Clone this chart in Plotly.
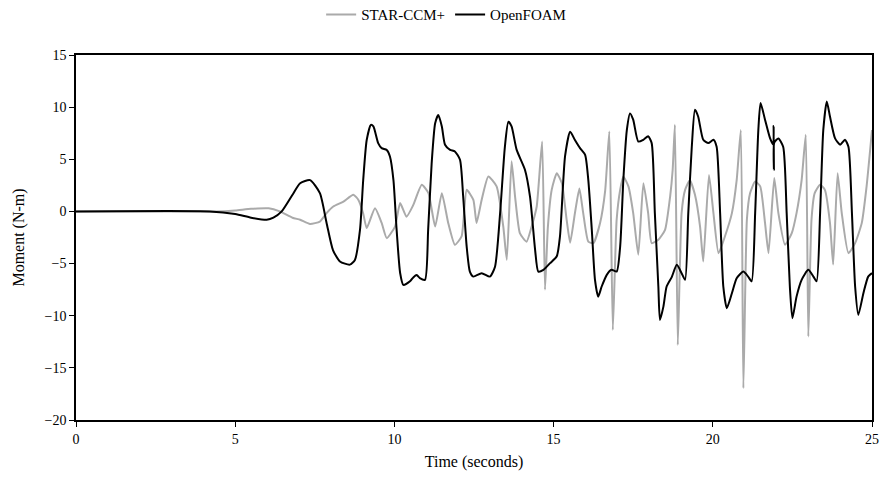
import plotly.graph_objects as go

# OpenFOAM moment history (time in s, moment in N-m)
t_foam = [0, 4.2, 5.0, 5.5, 5.99, 6.2, 6.46, 6.8, 7.04, 7.35, 7.66, 7.87, 8.07, 8.29, 8.6, 8.76,
          8.92, 9.02, 9.13, 9.26, 9.34, 9.49, 9.6, 9.76, 9.86, 9.97, 10.07, 10.18, 10.28, 10.49,
          10.6, 10.7, 10.8, 10.96, 11.06, 11.17, 11.28, 11.38, 11.49, 11.59, 11.75, 11.9, 12.06,
          12.16, 12.27, 12.37, 12.48, 12.74, 13.0, 13.16, 13.32, 13.47, 13.58, 13.68, 13.84,
          14.1, 14.26, 14.42, 14.52, 14.68, 14.89, 15.1, 15.2, 15.36, 15.52,
          15.67, 15.83, 15.99, 16.09, 16.2, 16.3, 16.4, 16.51, 16.67, 16.82, 16.98, 17.09, 17.19,
          17.3, 17.4, 17.5, 17.66, 17.82, 17.97, 18.08, 18.18, 18.29, 18.34, 18.45, 18.55, 18.71,
          18.87, 19.02, 19.13, 19.23, 19.34, 19.44, 19.54, 19.7, 19.86, 20.02, 20.12, 20.23,
          20.33, 20.44, 20.6, 20.75, 20.96, 21.11, 21.22, 21.33, 21.43, 21.5, 21.64, 21.8, 21.9,
          21.91, 21.92, 21.93, 22.06, 22.21, 22.32, 22.42, 22.5, 22.63, 22.79, 23.0, 23.16, 23.26,
          23.37, 23.47, 23.58, 23.68, 23.84, 24.0, 24.15, 24.26, 24.37, 24.47, 24.57, 24.73,
          24.88, 25.0]
m_foam = [0, 0, -0.25, -0.6, -0.8, -0.6, 0, 1.6, 2.7, 3.0, 1.75, -1.1, -3.7, -4.8, -5.1, -4.65,
          -1.75, 3.0, 6.85, 8.3, 8.15, 6.55, 6.07, 5.9, 5.27, 3.0, -1.77, -5.9, -7.05, -6.7,
          -6.3, -6.1, -6.4, -6.56, -1.77, 4.6, 8.45, 9.25, 8.15, 6.4, 5.9, 5.75, 4.95,
          1.43, -3.37, -5.77, -6.25, -5.92, -6.25, -5.3, -0.16, 6.2, 8.6, 8.15, 5.9,
          4.0, 1.4, -3.7, -5.77, -5.6, -4.96, -4.3, -2.4, 5.3, 7.65,
          6.85, 6.07, 5.43, 3.0, -1.77, -6.56, -8.17, -7.2, -6.08, -5.6, -5.77, -3.37, 3.0,
          7.8, 9.4, 8.8, 6.7, 6.87, 7.2, 6.55, -0.16, -7.2, -10.4, -9.1, -7.2, -6.3,
          -5.12, -5.92, -6.56, -0.16, 6.2, 9.75, 9.1, 6.87, 6.55, 6.87, 6.2, -0.16,
          -7.2, -9.28, -7.84, -6.4, -5.77, -6.25, -6.7, -0.16, 7.8, 10.4, 8.8, 7.0, 6.4,
          8.2, 4.0, 6.6, 7.0, 6.2, -0.16, -7.2, -10.24, -8.17, -6.56, -5.6, -6.25, -6.7,
          -0.16, 7.8, 10.55, 9.1, 7.0, 6.4, 6.87, 6.2, -0.16, -7.2, -9.92, -7.84,
          -6.25, -5.92]

# STAR-CCM+ moment history
t_star = [0, 4.4, 5.0, 5.5, 6.05, 6.4, 6.8, 7.04, 7.35, 7.66, 7.87, 8.08, 8.4, 8.71, 8.87, 9.02,
          9.13, 9.39, 9.6, 9.76, 10.02, 10.18, 10.38, 10.59, 10.86, 11.07, 11.28,
          11.49, 11.69, 11.9, 12.11, 12.27, 12.48, 12.58, 12.74, 12.95, 13.21, 13.42,
          13.53, 13.68, 13.79, 13.94, 14.15, 14.31, 14.47, 14.64, 14.73, 14.82, 14.94, 15.1,
          15.26, 15.41, 15.52, 15.67, 15.81, 15.93, 16.09, 16.25, 16.46, 16.62, 16.75, 16.86,
          16.98, 17.09, 17.19, 17.35, 17.5, 17.66, 17.82, 17.97, 18.08, 18.29, 18.5, 18.66,
          18.74, 18.81, 18.9, 19.02, 19.13, 19.28, 19.44, 19.6, 19.7, 19.88, 20.02, 20.18, 20.38,
          20.6, 20.75, 20.88, 20.96, 21.07, 21.17, 21.33, 21.49, 21.64, 21.75, 21.93, 22.06,
          22.27, 22.48, 22.63, 22.79, 22.92, 23.0, 23.1, 23.2, 23.37, 23.52, 23.68, 23.78,
          23.92, 24.05, 24.26, 24.47, 24.68, 24.83, 25.0]
m_star = [0, 0, 0.1, 0.25, 0.3, 0.0, -0.6, -0.8, -1.2, -0.97, -0.16, 0.47, 0.95, 1.6, 1.1, -0.2,
          -1.6, 0.3, -1.1, -2.56, -1.45, 0.8, -0.5, 0.6, 2.55, 1.75, -1.45,
          1.75, -1.1, -3.2, -2.4, 2.07, 1.1, -1.1, 1.1, 3.35, 2.4, -1.45,
          -4.64, 4.8, 1.43, -2.08, -2.9, -1.45, 0.47, 6.7, -7.5, -1.5, 2.07, 3.67,
          2.7, -0.8, -3.0, -0.16, 2.2, -0.16, -2.9, -3.04, -1.1, 2.0, 7.67, -11.36,
          -0.8, 2.07, 3.35, 2.4, -0.16, -4.16, 2.7, -0.16, -3.04, -2.72, -1.77, 1.43,
          4.0, 8.3, -12.8, -0.16, 2.07, 3.0, 1.6, -1.45, -4.8, 3.5, -0.16, -4.0, -2.4,
          -0.16, 3.0, 7.8, -16.96, -0.8, 1.75, 2.87, 2.4, -1.1, -4.0, 3.2, -0.16,
          -3.2, -2.08, -0.16, 3.0, 7.35, -12.0, -0.8, 1.75, 2.55, 2.07, -1.1, -5.1,
          3.67, -0.16, -4.0, -3.04, -1.1, 2.4, 7.8]

y_ticks = [15, 10, 5, 0, -5, -10, -15, -20]
x_ticks = [0, 5, 10, 15, 20, 25]

serif = "Liberation Serif, Times New Roman, serif"

fig = go.Figure()
fig.add_trace(go.Scatter(x=t_star, y=m_star, mode="lines", name="STAR-CCM+",
                         line=dict(color="#aaaaaa", width=2, shape="spline", smoothing=0.5)))
fig.add_trace(go.Scatter(x=t_foam, y=m_foam, mode="lines", name="OpenFOAM",
                         line=dict(color="#000000", width=2, shape="spline", smoothing=0.6)))

axis_common = dict(showline=True, linecolor="black", linewidth=1.5, mirror=True,
                   showgrid=False, zeroline=False, ticks="outside", ticklen=5,
                   tickcolor="black", automargin=False,
                   tickfont=dict(family=serif, size=14, color="black"))

fig.update_layout(
    width=881, height=481,
    margin=dict(l=76, r=9, t=55, b=61, autoexpand=False),
    paper_bgcolor="white", plot_bgcolor="white",
    font=dict(family=serif, size=14, color="black"),
    showlegend=True,
    legend=dict(orientation="h", x=0.465, xanchor="center", y=1.11, yanchor="middle",
                font=dict(family=serif, size=15, color="black"),
                itemwidth=30, tracegroupgap=0),
    xaxis=dict(range=[0, 25], tickvals=x_ticks,
               title=dict(text="Time (seconds)", font=dict(family=serif, size=16), standoff=10),
               **axis_common),
    yaxis=dict(range=[-20, 15], tickvals=y_ticks,
               title=dict(text="Moment (N-m)", font=dict(family=serif, size=16), standoff=16),
               **axis_common),
)

fig.write_html("out.html")
